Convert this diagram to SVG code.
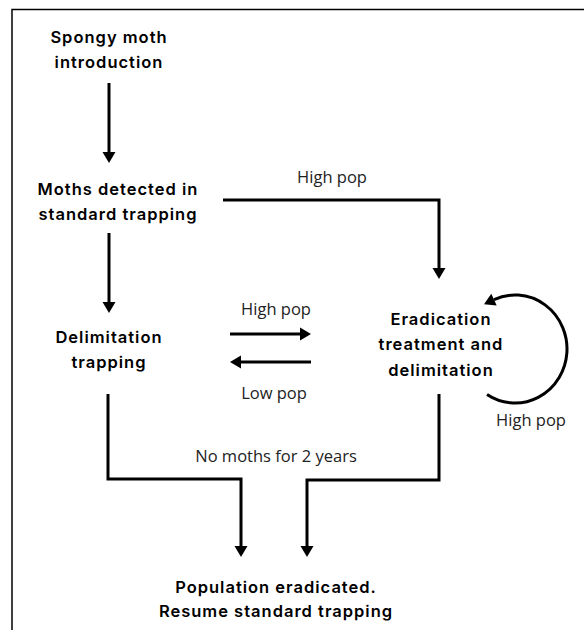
<svg xmlns="http://www.w3.org/2000/svg" width="584" height="630" viewBox="0 0 584 630">
<style>
.node{font-family:Inter,"Liberation Sans",sans-serif;font-weight:600;font-size:16.5px;letter-spacing:1px;fill:#000;text-anchor:middle}
.lbl{font-family:"Open Sans","Liberation Sans",sans-serif;font-size:16.5px;fill:#222;text-anchor:middle}
.edge{fill:none;stroke:#000;stroke-width:3;marker-end:url(#ah)}
</style>
<defs>
<marker id="ah" markerUnits="userSpaceOnUse" markerWidth="14" markerHeight="14" viewBox="0 -7 12 14" refX="0" refY="0" orient="auto">
<path d="M0,-6.5 L11,0 L0,6.5 z" fill="#000"/>
</marker>
</defs>
<rect width="584" height="630" fill="#fff"/>
<path d="M12,630 V9.5 H584" fill="none" stroke="#000" stroke-width="1.5"/>
<g id="n-intro"><text class="node" x="109" y="43">Spongy moth</text><text class="node" x="109" y="68">introduction</text></g>
<g id="n-detected"><text class="node" x="118" y="195">Moths detected in</text><text class="node" x="118" y="220">standard trapping</text></g>
<g id="n-delim"><text class="node" x="109" y="343">Delimitation</text><text class="node" x="109" y="368">trapping</text></g>
<g id="n-erad"><text class="node" x="441" y="325">Eradication</text><text class="node" x="441" y="350">treatment and</text><text class="node" x="441" y="376">delimitation</text></g>
<g id="n-end"><text class="node" x="276" y="593">Population eradicated.</text><text class="node" x="276" y="617">Resume standard trapping</text></g>
<g id="connectors">
<path class="edge" d="M109,83 V152"/>
<path class="edge" d="M223,200 H439 V268"/>
<path class="edge" d="M109,233 V302"/>
<path class="edge" d="M230,334 H300"/>
<path class="edge" d="M311,362 H241"/>
<path class="edge" d="M487,394.5 A52,54 0 1 0 494,299.6"/>
<path class="edge" d="M108,394 V479 H241 V546"/>
<path class="edge" d="M439,394 V480 H307 V546"/>
<text class="lbl" x="332" y="183">High pop</text>
<text class="lbl" x="276" y="315">High pop</text>
<text class="lbl" x="274" y="399">Low pop</text>
<text class="lbl" x="531" y="426">High pop</text>
<text class="lbl" x="276" y="462">No moths for 2 years</text>
</g>
</svg>
